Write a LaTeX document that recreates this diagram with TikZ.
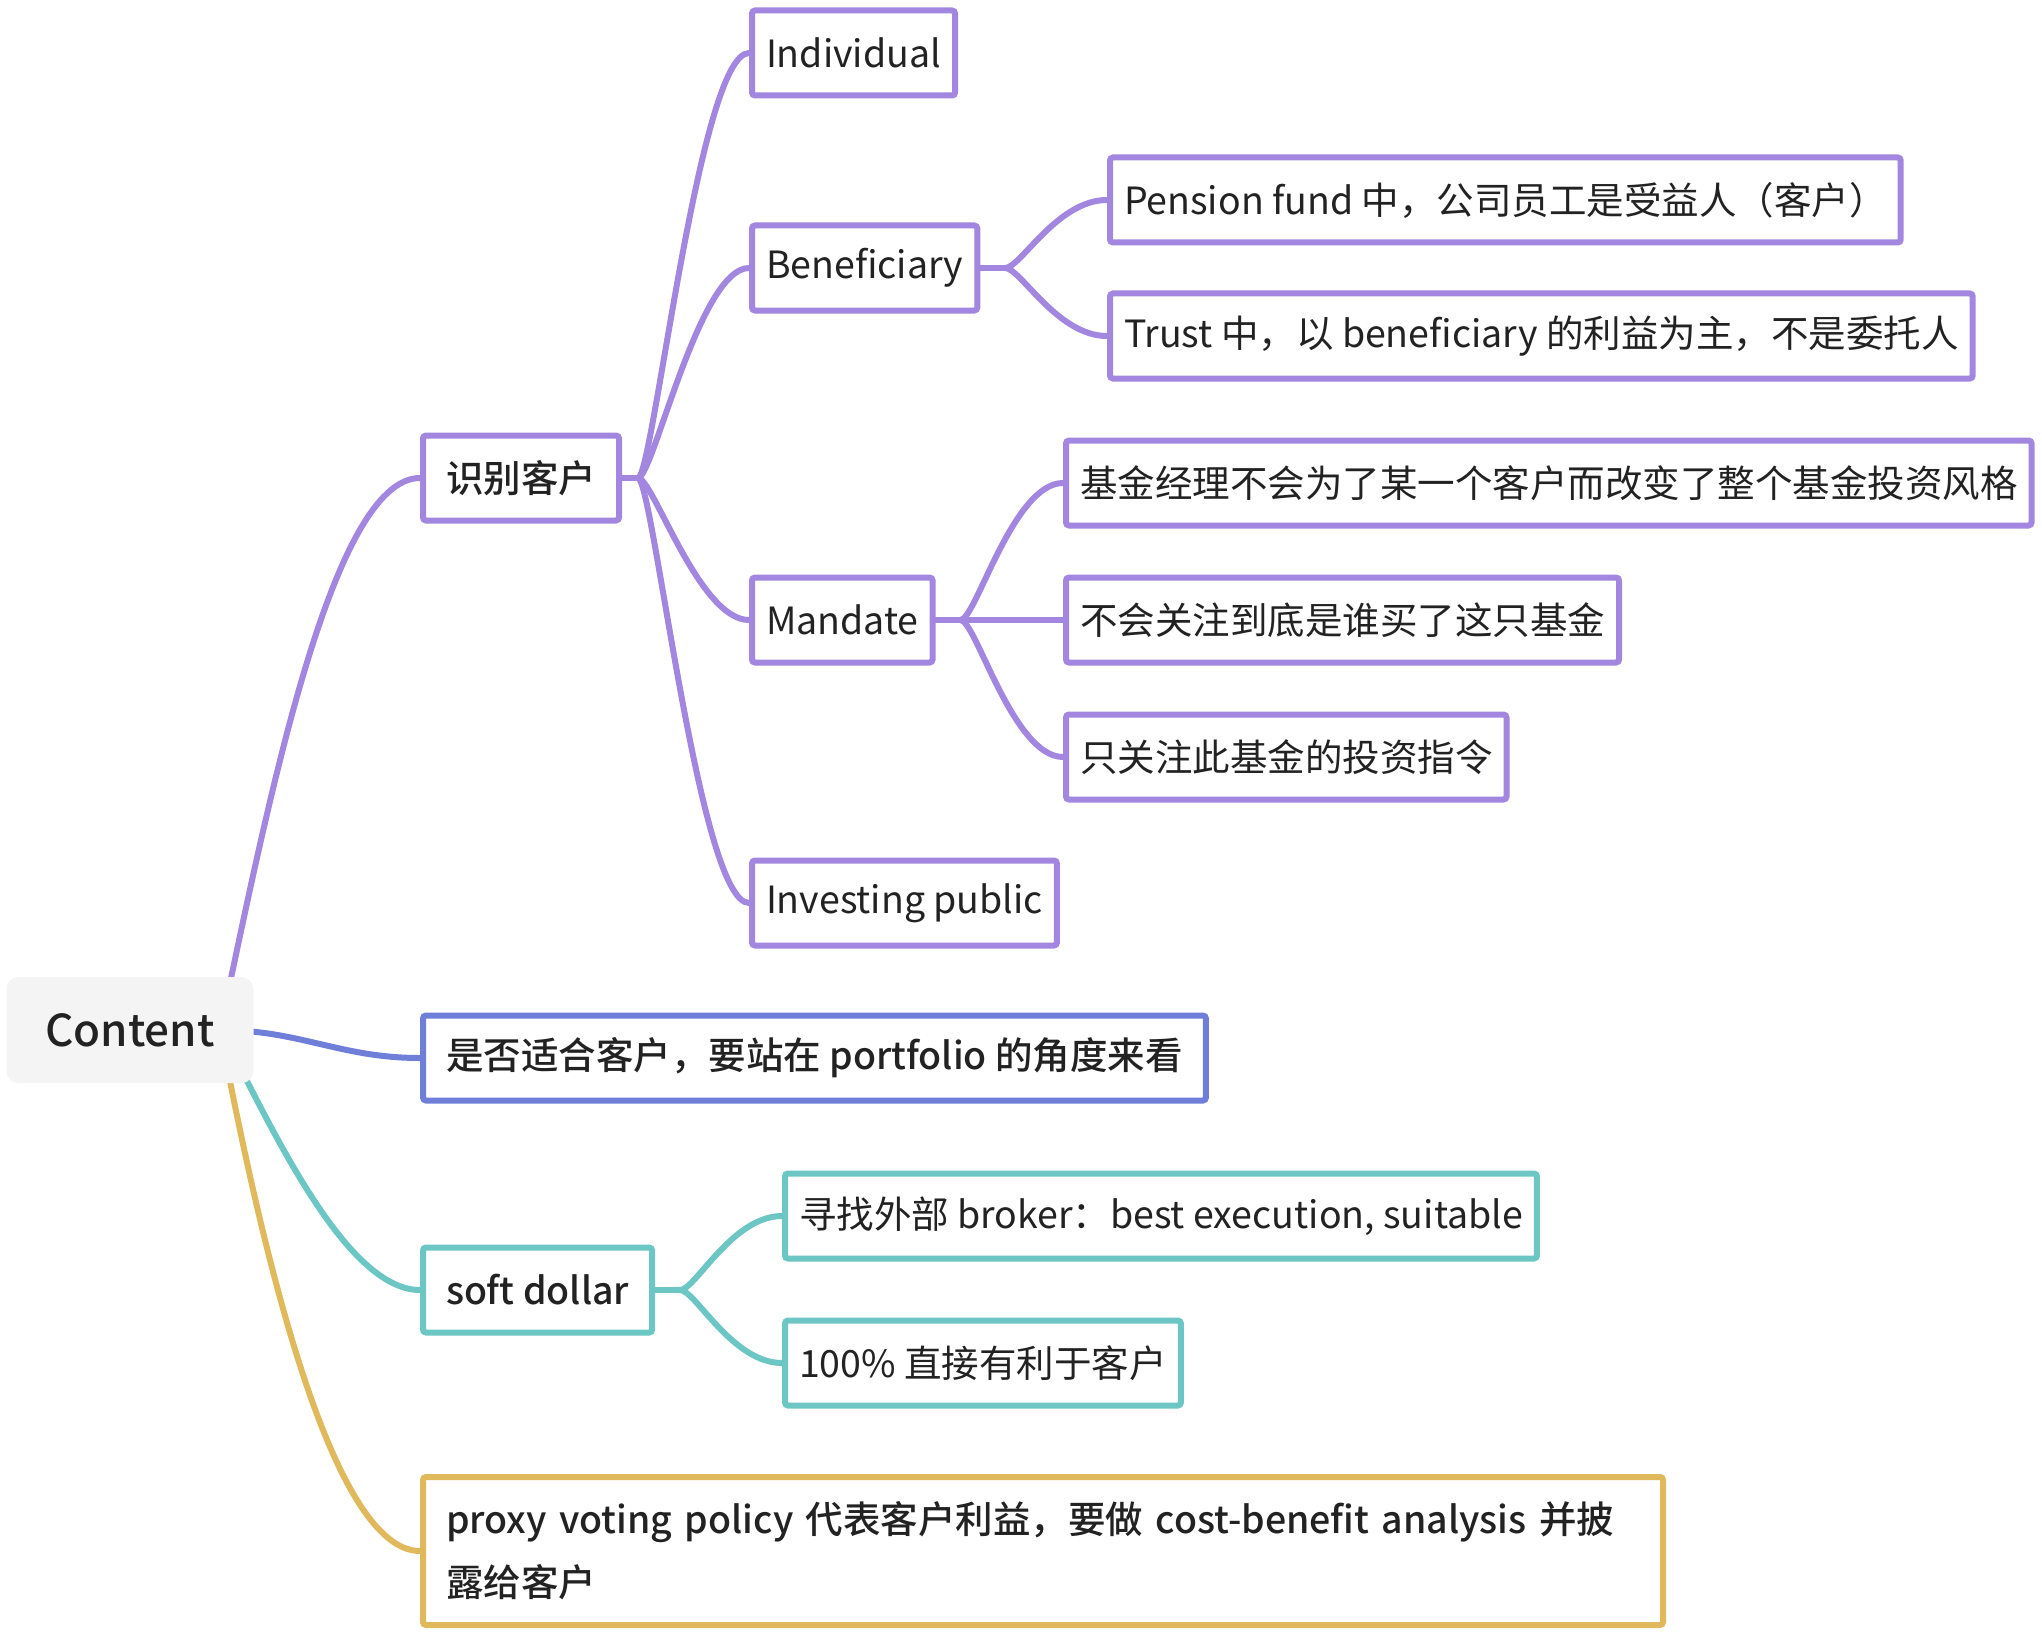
\documentclass[tikz,border=0pt]{standalone}
\usepackage{fontspec}
\setmainfont{Noto Sans CJK SC}[BoldFont={Noto Sans CJK SC Medium}]
\usetikzlibrary{positioning,backgrounds}
\definecolor{mindpurple}{RGB}{162,134,224}
\definecolor{mindblue}{RGB}{111,126,216}
\definecolor{mindteal}{RGB}{108,198,196}
\definecolor{mindgold}{RGB}{224,185,92}
\definecolor{rootgray}{RGB}{244,244,244}
\definecolor{inkdark}{RGB}{34,34,34}
\tikzset{
  leaf/.style={draw, line width=6pt, rounded corners=3pt, fill=white, anchor=west,
    minimum height=85pt, inner xsep=14pt, text=inkdark,
    font=\fontsize{37.5}{63}\selectfont},
  topic/.style={leaf, inner xsep=23pt, font=\fontsize{37.5}{63}\selectfont\bfseries},
  link/.style={line width=6pt, line cap=round},
}

\begin{document}
\begin{tikzpicture}[x=1pt, y=-1pt]
    \useasboundingbox (0,0) rectangle (2042,1637);

    % Root
    \node[fill=rootgray, rounded corners=12pt, minimum width=247pt, minimum height=106pt,
      text=inkdark, font=\fontsize{44}{50}\selectfont\bfseries] (content) at (130,1030) {Content};
    \coordinate (hub) at (220,1030);

    % Main topics
    \node[topic, draw=mindpurple] (client) at (420,478) {识别客户};
    \node[topic, draw=mindblue] (suit) at (420,1058) {是否适合客户，要站在 portfolio 的角度来看};
    \node[topic, draw=mindteal] (soft) at (420,1290) {soft dollar};
    \node[topic, draw=mindgold, align=left, text width=1194pt, minimum height=148pt] (proxy) at (420,1551)
      {\mbox{proxy voting policy 代表客户利益，要做 cost-benefit analysis 并披}\\露给客户};

    % Who is the client
    \node[leaf, draw=mindpurple] (indiv) at (749,53) {Individual};
    \node[leaf, draw=mindpurple] (benef) at (749,268) {Beneficiary};
    \node[leaf, draw=mindpurple] (mandate) at (749,620) {Mandate};
    \node[leaf, draw=mindpurple] (invest) at (749,903) {Investing public};

    \node[leaf, draw=mindpurple] (pension) at (1107,200) {Pension fund 中，公司员工是受益人（客户）};
    \node[leaf, draw=mindpurple] (trust) at (1107,336) {Trust 中，以 beneficiary 的利益为主，不是委托人};

    \node[leaf, draw=mindpurple] (nochange) at (1063,483) {基金经理不会为了某一个客户而改变了整个基金投资风格};
    \node[leaf, draw=mindpurple] (nocare) at (1063,620) {不会关注到底是谁买了这只基金};
    \node[leaf, draw=mindpurple] (onlycare) at (1063,757) {只关注此基金的投资指令};

    % Soft dollar
    \node[leaf, draw=mindteal] (broker) at (782,1216) {寻找外部 broker：best execution, suitable};
    \node[leaf, draw=mindteal] (direct) at (782,1363) {100\% 直接有利于客户};

    % Forks
    \coordinate (clientfork) at ([xshift=16pt]client.east);
    \coordinate (beneffork) at ([xshift=25pt]benef.east);
    \coordinate (mandatefork) at ([xshift=25pt]mandate.east);
    \coordinate (softfork) at ([xshift=25pt]soft.east);

    \begin{pgfonlayer}{background}
        % Root branches
        \draw[link, mindpurple] (hub) .. controls +(45,-210) and +(-90,0) .. (client.west);
        \draw[link, mindblue] (hub) .. controls +(80,0) and +(-80,0) .. (suit.west);
        \draw[link, mindteal] (hub) .. controls +(40,70) and +(-80,0) .. (soft.west);
        \draw[link, mindgold] (hub) .. controls +(40,210) and +(-90,0) .. (proxy.west);

        % Sub branches
        \draw[link, mindpurple] (client.east) -- (clientfork);
        \foreach \kid in {indiv,benef,mandate,invest}
            \draw[link, mindpurple] (clientfork) .. controls +(15,0) and +(-50,0) .. (\kid.west);

        \draw[link, mindpurple] (benef.east) -- (beneffork);
        \foreach \kid in {pension,trust}
            \draw[link, mindpurple] (beneffork) .. controls +(15,0) and +(-50,0) .. (\kid.west);

        \draw[link, mindpurple] (mandate.east) -- (mandatefork);
        \foreach \kid in {nochange,nocare,onlycare}
            \draw[link, mindpurple] (mandatefork) .. controls +(15,0) and +(-50,0) .. (\kid.west);

        \draw[link, mindteal] (soft.east) -- (softfork);
        \foreach \kid in {broker,direct}
            \draw[link, mindteal] (softfork) .. controls +(15,0) and +(-50,0) .. (\kid.west);
    \end{pgfonlayer}
\end{tikzpicture}
\end{document}
